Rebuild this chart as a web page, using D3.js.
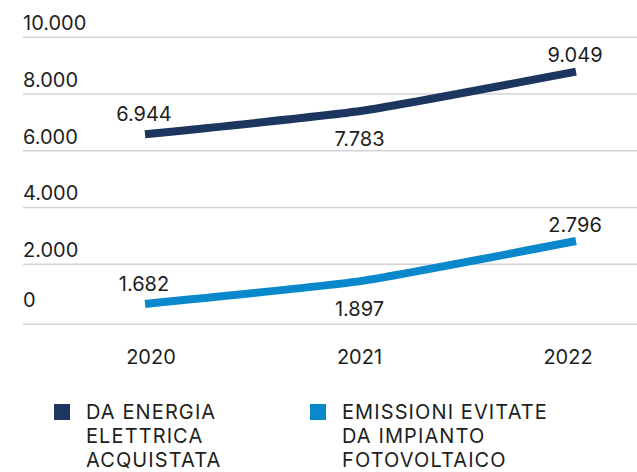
<!DOCTYPE html>
<html>
<head>
<meta charset="utf-8">
<script src="https://cdn.jsdelivr.net/npm/d3@7"></script>
<style>
  html, body { margin: 0; padding: 0; background: #ffffff; }
  svg { display: block; }
  text { font-family: Inter, "Noto Sans", sans-serif; fill: #1e1e1e; }
</style>
</head>
<body>
<svg id="chart" width="637" height="472"></svg>
<script>
// ---- data ----
const years = ["2020", "2021", "2022"];
// printed values (labels on the chart)
const energiaValues = [6944, 7783, 9049];
const fotovoltaicoValues = [1682, 1897, 2796];
// line heights as drawn in the picture, read against the gridlines
const energiaPlot = [6580, 7400, 8790];
const fotovoltaicoPlot = [680, 1440, 2820];
const yTicks = [0, 2000, 4000, 6000, 8000, 10000];
const seriesNames = [
  ["DA ENERGIA", "ELETTRICA", "ACQUISTATA"],
  ["EMISSIONI EVITATE", "DA IMPIANTO", "FOTOVOLTAICO"]
];
const colors = ["#1c365f", "#0a88cc"];

// ---- layout ----
const W = 637, H = 472;
const svg = d3.select("#chart");
const fmt = v => d3.format(",")(v).replace(/,/g, ".");

const y = d3.scaleLinear().domain([0, 2000, 10000]).range([324.3, 264.3, 37.3]);
const x = d3.scalePoint().domain(years).range([145, 576]);
const xLab = d3.scalePoint().domain(years).range([151, 568]);

// gridlines
svg.append("g").selectAll("line").data(yTicks).join("line")
  .attr("x1", 23).attr("x2", W)
  .attr("y1", d => y(d)).attr("y2", d => y(d))
  .attr("stroke", "#d3d3d3").attr("stroke-width", 1.5);

// y tick labels
svg.append("g").selectAll("text").data(yTicks).join("text")
  .attr("x", 23)
  .attr("y", d => y(d) - (d === 0 ? 17 : 7.3))
  .attr("font-size", 20)
  .text(d => d === 0 ? "0" : fmt(d));

// x labels
svg.append("g").selectAll("text").data(years).join("text")
  .attr("x", d => xLab(d)).attr("y", 364.3)
  .attr("text-anchor", "middle").attr("font-size", 20)
  .text(d => d);

const line = d3.line()
  .x((d, i) => x(years[i]))
  .y(d => y(d))
  .curve(d3.curveCardinal.tension(0.55));

const series = [
  { plot: energiaPlot, values: energiaValues, color: colors[0] },
  { plot: fotovoltaicoPlot, values: fotovoltaicoValues, color: colors[1] }
];

series.forEach(s => {
  svg.append("path").datum(s.plot)
    .attr("d", line)
    .attr("fill", "none")
    .attr("stroke", s.color)
    .attr("stroke-width", 8)
    .attr("stroke-linecap", "butt");
});

// value labels: above at ends, below in the middle
const labelOffsets = [-13, 35, -9.5];
series.forEach(s => {
  svg.append("g").selectAll("text").data(s.values).join("text")
    .attr("x", (d, i) => x(years[i]) - 1)
    .attr("y", (d, i) => y(s.plot[i]) + labelOffsets[i])
    .attr("text-anchor", "middle").attr("font-size", 20)
    .text(d => fmt(d));
});

// legend
const legendX = [54, 310];
const leg = svg.append("g").selectAll("g").data(seriesNames).join("g")
  .attr("transform", (d, i) => `translate(${legendX[i]},0)`);
leg.append("rect")
  .attr("x", 0).attr("y", 404).attr("width", 16).attr("height", 16)
  .attr("fill", (d, i) => colors[i]);
leg.each(function(lines) {
  d3.select(this).selectAll("text").data(lines).join("text")
    .attr("x", 32)
    .attr("y", (d, j) => 419 + j * 24)
    .attr("font-size", 20)
    .attr("letter-spacing", 1.1)
    .text(d => d);
});
</script>
</body>
</html>
